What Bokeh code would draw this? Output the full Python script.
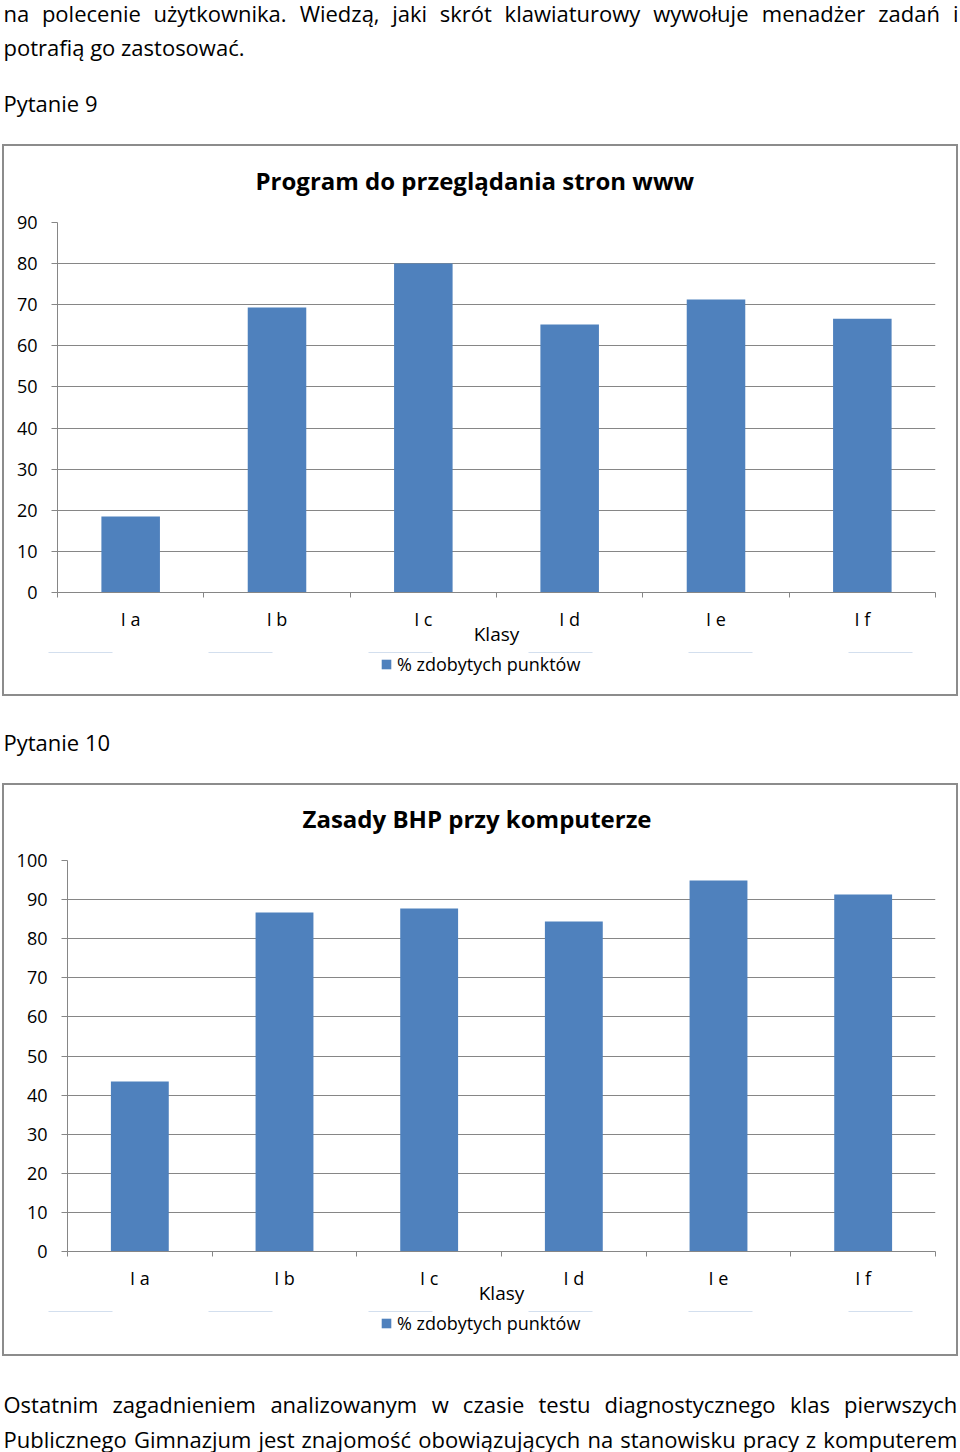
from bokeh.plotting import figure
from bokeh.models import (Range1d, LinearAxis, FixedTicker, Grid, ColumnDataSource)
from bokeh.embed import file_html
from bokeh.resources import INLINE
from bokeh.core.properties import value

# ---------------- data ----------------
categories = ["I a", "I b", "I c", "I d", "I e", "I f"]
q9_values = [18.5, 69.3, 80.0, 65.2, 71.3, 66.6]
q10_values = [43.5, 86.7, 87.7, 84.4, 94.9, 91.3]
q9_ticks = [0, 10, 20, 30, 40, 50, 60, 70, 80, 90]
q10_ticks = [0, 10, 20, 30, 40, 50, 60, 70, 80, 90, 100]
q9_title = "Program do przeglądania stron www"
q10_title = "Zasady BHP przy komputerze"
series_name = "% zdobytych punktów"
x_title = "Klasy"
q9_heading = "Pytanie 9"
q10_heading = "Pytanie 10"
top_line1 = ["na", "polecenie", "użytkownika.", "Wiedzą,", "jaki", "skrót", "klawiaturowy",
             "wywołuje", "menadżer", "zadań", "i"]
top_line2 = "potrafią go zastosować."
bottom_line1 = ["Ostatnim", "zagadnieniem", "analizowanym", "w", "czasie", "testu",
                "diagnostycznego", "klas", "pierwszych"]
bottom_line2 = ["Publicznego", "Gimnazjum", "jest", "znajomość", "obowiązujących", "na",
                "stanowisku", "pracy", "z", "komputerem"]

# ---------------- layout / style ----------------
PAGE_W = 960
BLUE = "#4F81BD"
GRAY = "#868686"
BORDER = "#8C8C8C"
FONT = "Open Sans"
BODY_SIZE = 22
BODY = dict(text_font=value(FONT), text_font_size=f"{BODY_SIZE}px", text_baseline="middle",
            text_align="left", text_color="#000000")


def ring_top(inset):
    return (f"inset 2px 0 0 0 white, inset -2px 0 0 0 white, inset 0 {inset}px 0 0 white, "
            f"inset 4px 0 0 0 {BORDER}, inset -4px 0 0 0 {BORDER}, inset 0 {inset + 2}px 0 0 {BORDER}")


RING_BOTTOM = (f"inset 2px 0 0 0 white, inset -2px 0 0 0 white, "
               f"inset 4px 0 0 0 {BORDER}, inset -4px 0 0 0 {BORDER}, inset 0 -2px 0 0 {BORDER}")

# approximate Open Sans advance widths (em) used only to justify lines
_W = {" ": .26, "a": .556, "b": .613, "c": .476, "d": .613, "e": .561, "f": .339, "g": .548,
      "h": .614, "i": .253, "j": .253, "k": .525, "l": .253, "m": .930, "n": .614, "o": .604,
      "p": .613, "r": .408, "s": .477, "t": .353, "u": .614, "w": .778, "y": .502, "z": .477,
      "ą": .556, "ę": .561, "ó": .604, "ż": .477, "ź": .477, "ń": .614, "ć": .476, "ś": .477,
      "ł": .27, ",": .245, ".": .266, "O": .781, "P": .603, "G": .713, "W": .928}


def justify(words, x0, x1, size):
    widths = [sum(_W.get(ch, .55) for ch in w) * size for w in words]
    gap = (x1 - x0 - sum(widths)) / (len(words) - 1)
    xs, x = [], x0
    for w in widths:
        xs.append(x)
        x += w + gap
    return xs


def text_panel(height):
    p = figure(width=PAGE_W, height=height, x_range=Range1d(0, PAGE_W), y_range=Range1d(height, 0),
               x_axis_location=None, y_axis_location=None, toolbar_location=None,
               output_backend="svg", min_border=0)
    p.grid.visible = False
    p.outline_line_color = None
    p.background_fill_color = None
    p.border_fill_color = None
    return p


def chart(title, vals, ymax, ticks, height, left, top, bottom, title_standoff, title_offset, ring_inset):
    n = len(categories)
    centers = [i + 0.5 for i in range(n)]
    p = figure(width=PAGE_W, height=height, x_range=Range1d(0, n), y_range=Range1d(0, ymax),
               x_axis_location=None, y_axis_location=None, toolbar_location=None,
               output_backend="svg", title=title,
               min_border_left=left, min_border_right=25, min_border_top=top,
               min_border_bottom=bottom, styles={"box-shadow": ring_top(ring_inset)})
    p.center = []
    p.outline_line_color = None
    p.background_fill_color = None
    p.border_fill_color = None

    p.title.text_font = FONT
    p.title.text_font_size = "24px"
    p.title.text_font_style = "bold"
    p.title.text_color = "#000000"
    p.title.align = "left"
    p.title.standoff = title_standoff
    p.title.offset = title_offset

    yax = LinearAxis(ticker=FixedTicker(ticks=ticks), major_tick_out=6, major_tick_in=0,
                     minor_tick_line_color=None, axis_line_color=GRAY, major_tick_line_color=GRAY,
                     major_label_standoff=14, major_label_text_font=FONT,
                     major_label_text_font_size="18px", major_label_text_color="#000000")
    p.add_layout(yax, "left")
    p.add_layout(Grid(dimension=1, ticker=yax.ticker, grid_line_color=GRAY))

    # category boundary tick marks
    bax = LinearAxis(ticker=FixedTicker(ticks=list(range(n + 1))),
                     major_tick_out=5, major_tick_in=0, minor_tick_line_color=None,
                     axis_line_color=GRAY, major_tick_line_color=GRAY,
                     major_label_overrides={i: "" for i in range(n + 1)},
                     major_label_text_font_size="1px", major_label_standoff=0)
    p.add_layout(bax, "below")

    # category names
    cax = LinearAxis(ticker=FixedTicker(ticks=centers),
                     major_label_overrides={c: name for c, name in zip(centers, categories)},
                     axis_line_color=None, major_tick_line_color=None, minor_tick_line_color=None,
                     major_tick_out=0, major_tick_in=0, major_label_standoff=9,
                     major_label_text_font=FONT, major_label_text_font_size="18px",
                     major_label_text_color="#000000",
                     axis_label=x_title, axis_label_standoff=-13,
                     axis_label_text_font=FONT, axis_label_text_font_size="19px",
                     axis_label_text_font_style="normal", axis_label_text_color="#000000")
    p.add_layout(cax, "below")

    src = ColumnDataSource(dict(x=centers, cat=categories, val=vals))
    p.vbar(x="x", top="val", width=0.4, source=src, fill_color=BLUE, line_color=None)
    return p


def legend_strip(vals, height, legend_x, legend_y):
    # strip under the chart's axes that carries the series legend (bottom of the chart box)
    n = len(categories)
    centers = [i + 0.5 for i in range(n)]
    p = figure(width=PAGE_W, height=height, x_range=Range1d(0, n), y_range=Range1d(-300, -200),
               x_axis_location=None, y_axis_location=None, toolbar_location=None,
               output_backend="svg", min_border=0, styles={"box-shadow": RING_BOTTOM})
    p.grid.visible = False
    p.outline_line_color = None
    p.background_fill_color = None
    p.border_fill_color = None
    src = ColumnDataSource(dict(x=centers, val=vals))
    p.vbar(x="x", top="val", width=0.4, source=src, fill_color=BLUE, line_color=None,
           legend_label=series_name)
    lg = p.legend[0]
    lg.location = (legend_x, legend_y)
    lg.border_line_color = None
    lg.background_fill_alpha = 0
    lg.padding = 0
    lg.margin = 0
    lg.spacing = 0
    lg.glyph_width = 12
    lg.glyph_height = 12
    lg.label_standoff = 5
    lg.label_text_font = FONT
    lg.label_text_font_size = "18px"
    lg.label_text_color = "#000000"
    return p


# top text (page y 0..134)
t1 = text_panel(134)
t1.text(x=justify(top_line1, 3, 958, BODY_SIZE), y=[12] * len(top_line1), text=top_line1, **BODY)
t1.text(x=[3], y=[46], text=[top_line2], **BODY)
t1.text(x=[3], y=[102], text=[q9_heading], **BODY)

# chart 1 (page y 134..652) + legend strip (652..696)
c1 = chart(q9_title, q9_values, 90, q9_ticks, 518, 57, 88, 60, 52, 198, 10)
l1 = legend_strip(q9_values, 44, 380, 20)

# heading (page y 696..772)
t2 = text_panel(76)
t2.text(x=[3], y=[45], text=[q10_heading], **BODY)

# chart 2 (page y 772..1311) + legend strip (1311..1356)
c2 = chart(q10_title, q10_values, 100, q10_ticks, 539, 67, 88, 60, 52, 235, 11)
l2 = legend_strip(q10_values, 45, 380, 21)

# bottom text (page y 1356..1452)
t3 = text_panel(96)
t3.text(x=justify(bottom_line1, 3, 957, BODY_SIZE), y=[47] * len(bottom_line1), text=bottom_line1, **BODY)
t3.text(x=justify(bottom_line2, 3, 957, BODY_SIZE), y=[82] * len(bottom_line2), text=bottom_line2, **BODY)

open("out.html", "w").write(file_html([t1, c1, l1, t2, c2, l2, t3], INLINE, title="Pytanie 9 i 10"))
